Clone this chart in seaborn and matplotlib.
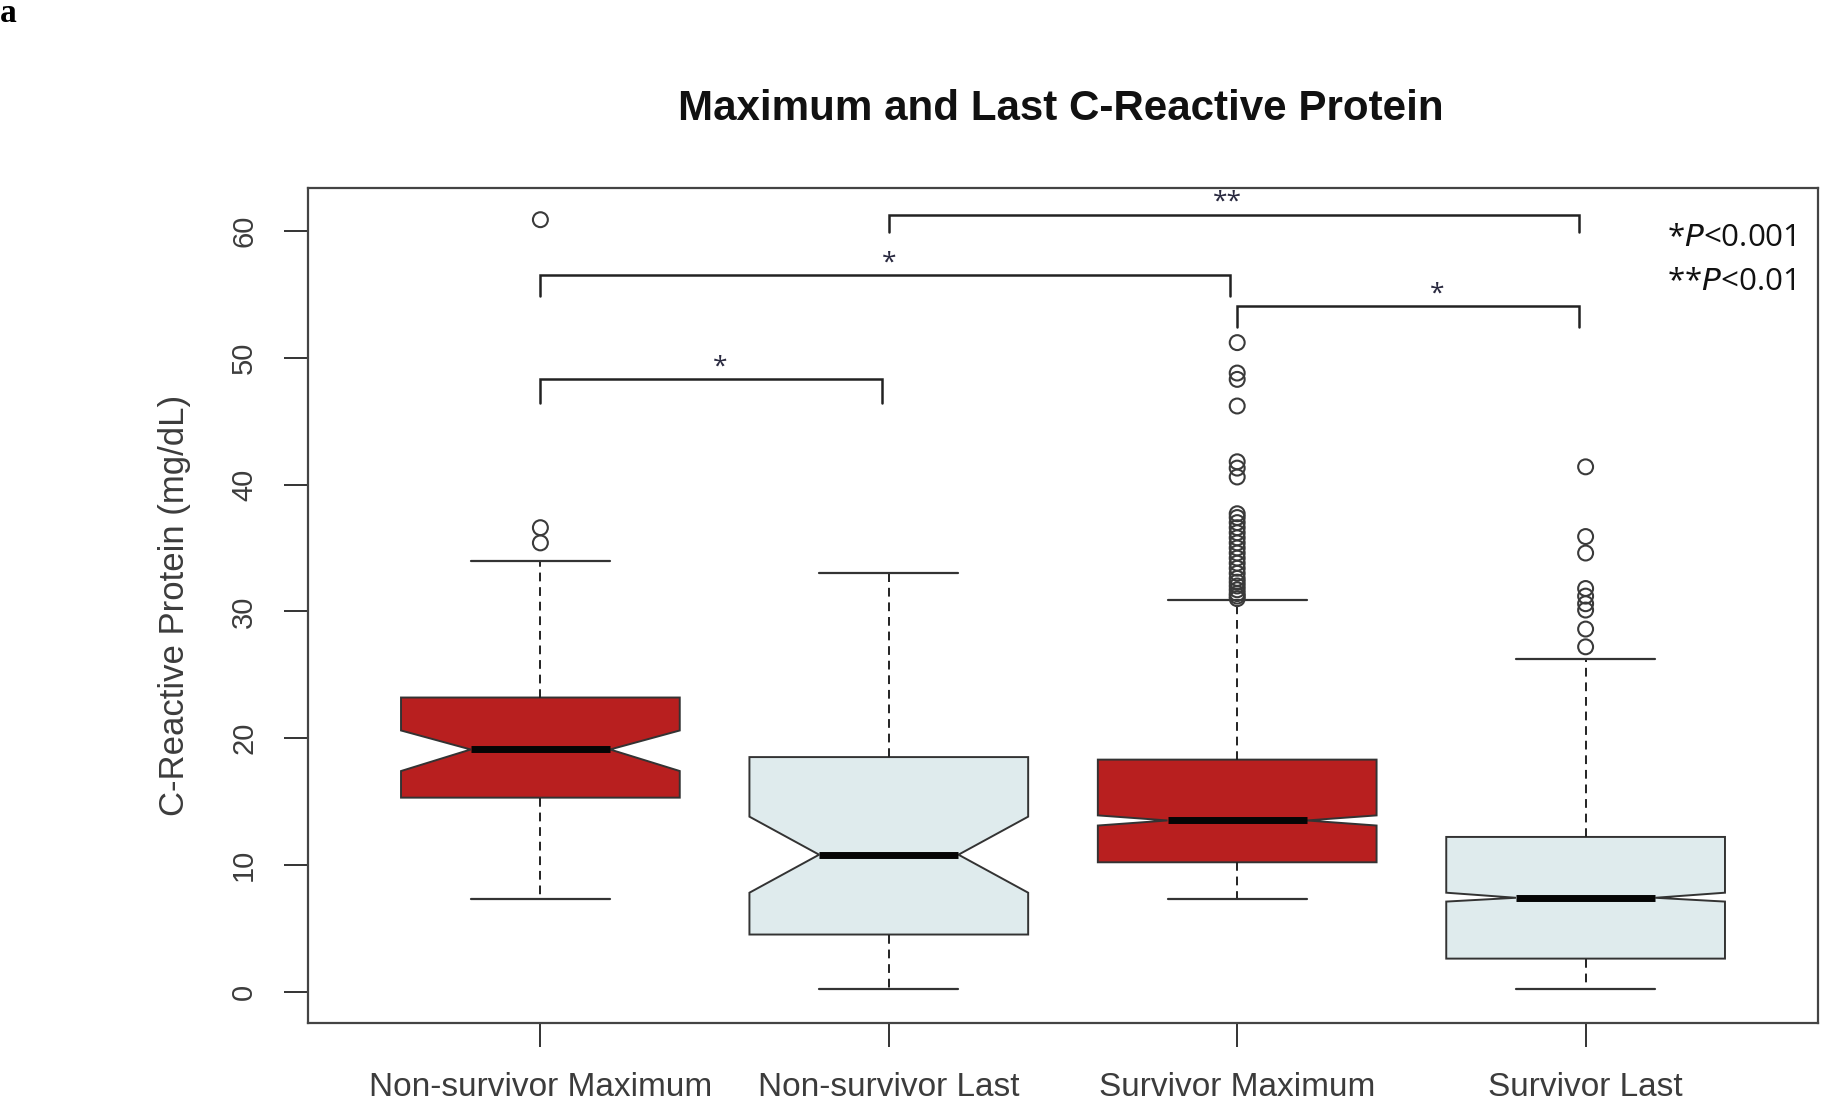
import numpy as np
import pandas as pd
import matplotlib
matplotlib.use("Agg")
import matplotlib.pyplot as plt
import seaborn as sns

# ---------------- data ----------------
categories = ["Non-survivor Maximum", "Non-survivor Last", "Survivor Maximum", "Survivor Last"]
whisker_low = [7.3, 0.2, 7.3, 0.2]
q1 = [15.3, 4.5, 10.2, 2.6]
median = [19.1, 10.8, 13.5, 7.4]
q3 = [23.2, 18.5, 18.3, 12.2]
whisker_high = [34.0, 33.0, 30.9, 26.2]
notch_low = [17.4, 7.8, 13.1, 7.1]
notch_high = [20.6, 13.8, 13.9, 7.8]
box_colors = ["#B81F1F", "#DFEBED", "#B81F1F", "#DFEBED"]

outliers_ns_max = [60.9, 36.6, 35.4]
outliers_ns_last = []
outliers_s_max = [51.2, 48.8, 48.3, 46.2, 41.8, 41.3, 40.6,
                  37.7, 37.4, 37.0, 36.6, 36.2, 35.8, 35.4, 35.0, 34.6, 34.2,
                  33.8, 33.4, 33.0, 32.6, 32.3, 32.0, 31.7, 31.4, 31.2, 31.0]
outliers_s_last = [41.4, 35.9, 34.6, 31.8, 31.2, 30.6, 30.1, 28.6, 27.2]

# significance brackets
bracket_left = [0, 0, 1, 2]
bracket_right = [1, 2, 3, 3]
bracket_height = [48.3, 56.5, 61.3, 54.1]
bracket_leg = [46.4, 54.9, 59.9, 52.4]
bracket_label = ["*", "*", "**", "*"]
bracket_label_x = [0.517, 1.0, 1.973, 2.573]
legend_lines = ["*", "**"]
legend_p = ["<0.001", "<0.01"]

title = "Maximum and Last C-Reactive Protein"
ylabel = "C-Reactive Protein (mg/dL)"
y_ticks = [0, 10, 20, 30, 40, 50, 60]

# ---------------- style ----------------
sns.set_theme(style="white")
plt.rcParams["font.family"] = ["Liberation Sans", "DejaVu Sans"]

fig = plt.figure(figsize=(18.22, 11.07), dpi=100)
ax = fig.add_axes([308 / 1822, 1 - 1023 / 1107, (1818 - 308) / 1822, (1023 - 188) / 1107])

positions = list(range(len(categories)))
stats = []
for i, name in enumerate(categories):
    stats.append(dict(label=name, whislo=whisker_low[i], q1=q1[i], med=median[i],
                      q3=q3[i], whishi=whisker_high[i], cilo=notch_low[i],
                      cihi=notch_high[i], fliers=[]))

bp = ax.bxp(stats, positions=positions, widths=0.8, shownotches=True, patch_artist=True,
            showfliers=False,
            boxprops=dict(edgecolor="#333333", linewidth=1.4),
            whiskerprops=dict(color="#222222", linestyle=(0, (4.5, 3)), linewidth=1.4),
            capprops=dict(color="#333333", linewidth=1.6),
            medianprops=dict(color="#050505", linewidth=5, solid_capstyle="butt"))
for patch, c in zip(bp["boxes"], box_colors):
    patch.set_facecolor(c)

# outliers
out_x, out_y = [], []
for i, vals in enumerate([outliers_ns_max, outliers_ns_last, outliers_s_max, outliers_s_last]):
    out_x += [positions[i]] * len(vals)
    out_y += vals
out_df = pd.DataFrame({"x": out_x, "y": out_y})
sns.scatterplot(data=out_df, x="x", y="y", ax=ax, marker="o", s=115,
                facecolors="none", edgecolor="#3a3a3a", linewidth=1.5, legend=False, zorder=4)

# brackets
for l, r, h, leg, lab, lx in zip(bracket_left, bracket_right, bracket_height, bracket_leg,
                                 bracket_label, bracket_label_x):
    ax.plot([positions[l], positions[l], positions[r] - 0.02, positions[r] - 0.02],
            [leg, h, h, leg], color="#222222", linewidth=1.8, solid_joinstyle="miter")
    ax.text(lx, h + 0.95, lab, ha="center", va="center",
            fontsize=19, color="#2a2a40", family=["Open Sans", "DejaVu Sans"])

# legend text for p-values
for k, (s, p) in enumerate(zip(legend_lines, legend_p)):
    ax.text(0.985, 0.94 - k * 0.052, s + r"$\it{P}$" + p, transform=ax.transAxes,
            ha="right", va="center", fontsize=22.5, color="#111111",
            family=["Open Sans", "DejaVu Sans"])

ax.set_xlim(-0.667, 3.667)
ax.set_ylim(-2.48, 63.4)
ax.set_xticks(positions)
ax.set_xticklabels(categories, fontsize=24, color="#3c3c3c")
ax.set_yticks(y_ticks)
ax.set_yticklabels([str(t) for t in y_ticks], fontsize=21, color="#3c3c3c", rotation=90, va="center")
ax.tick_params(axis="both", which="both", direction="out", length=17, width=1.4, color="#333333",
               bottom=True, left=True)
ax.tick_params(axis="x", pad=18)
ax.tick_params(axis="y", pad=19)
ax.set_ylabel(ylabel, fontsize=25, color="#3c3c3c", labelpad=28)
ax.set_xlabel("")
for sp in ax.spines.values():
    sp.set_visible(True)
    sp.set_color("#444444")
    sp.set_linewidth(1.6)
ax.grid(False)

fig.text(1061 / 1822, 1 - 109 / 1107, title, ha="center", va="center", fontsize=30.3,
         fontweight="bold", color="#111111")
fig.text(0.0, 1 - 14 / 1107, "a", ha="left", va="center", fontsize=24, fontweight="bold",
         family=["Liberation Serif", "DejaVu Serif"], color="black")

fig.savefig("out.png", dpi=100, facecolor="white")
